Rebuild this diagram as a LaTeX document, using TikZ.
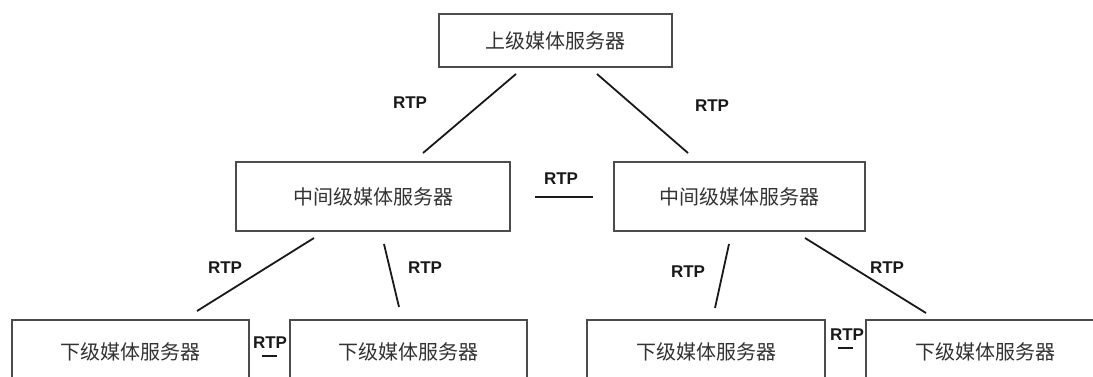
\documentclass[tikz,border=0pt]{standalone}
\usepackage{fontspec}
\setmainfont{Liberation Sans}
\newfontfamily\cjk{Noto Sans CJK SC}
\begin{document}
\begin{tikzpicture}[x=1pt,y=-1pt,
  box/.style={draw=black!70,line width=1.4pt,fill=white,inner sep=0pt,
    font=\cjk\fontsize{20}{22}\selectfont,text=black!80},
  lbl/.style={font=\bfseries\fontsize{17}{18}\selectfont,text=black!90,inner sep=0pt},
  link/.style={line width=1.8pt,black!90}]
\clip (0,0) rectangle (1093,376);
\fill[white] (0,0) rectangle (1093,376);
% boxes
\node[box,minimum width=233,minimum height=53] (top) at (555.5,40.5) {上级媒体服务器};
\node[box,minimum width=274,minimum height=69] (ml) at (373,196.5) {中间级媒体服务器};
\node[box,minimum width=251,minimum height=69] (mr) at (739.5,196.5) {中间级媒体服务器};
\node[box,minimum width=237,minimum height=64] (b1) at (130.5,352) {下级媒体服务器};
\node[box,minimum width=237,minimum height=64] (b2) at (408.5,352) {下级媒体服务器};
\node[box,minimum width=238,minimum height=64] (b3) at (706,352) {下级媒体服务器};
\node[box,minimum width=238,minimum height=64] (b4) at (985,352) {下级媒体服务器};
% connector end points
\coordinate (t1) at (516,74);  \coordinate (l1) at (423,153);
\coordinate (t2) at (597,74);  \coordinate (r1) at (688,153);
\coordinate (m1) at (314,238); \coordinate (d1) at (197,311);
\coordinate (m2) at (384,244); \coordinate (d2) at (399,307);
\coordinate (m3) at (729,244); \coordinate (d3) at (715,308);
\coordinate (m4) at (805,238); \coordinate (d4) at (926,313);
\coordinate (h1) at (535,197); \coordinate (h2) at (593,197);
\coordinate (s1) at (262,356); \coordinate (s2) at (277,356);
\coordinate (s3) at (838,348); \coordinate (s4) at (853,348);
\draw[link] (t1) -- (l1);
\draw[link] (t2) -- (r1);
\draw[link] (m1) -- (d1);
\draw[link] (m2) -- (d2);
\draw[link] (m3) -- (d3);
\draw[link] (m4) -- (d4);
\draw[link] (h1) -- (h2);
\draw[link] (s1) -- (s2);
\draw[link] (s3) -- (s4);
% labels
\node[lbl] (r_tl) at (410,103) {RTP};
\node[lbl] (r_tr) at (712,106) {RTP};
\node[lbl] (r_m) at (561,179) {RTP};
\node[lbl] (r_l1) at (225,268) {RTP};
\node[lbl] (r_l2) at (425,268) {RTP};
\node[lbl] (r_r1) at (688,272) {RTP};
\node[lbl] (r_r2) at (887,268) {RTP};
\node[lbl] (r_b1) at (270,343) {RTP};
\node[lbl] (r_b2) at (847,335) {RTP};
\end{tikzpicture}
\end{document}
